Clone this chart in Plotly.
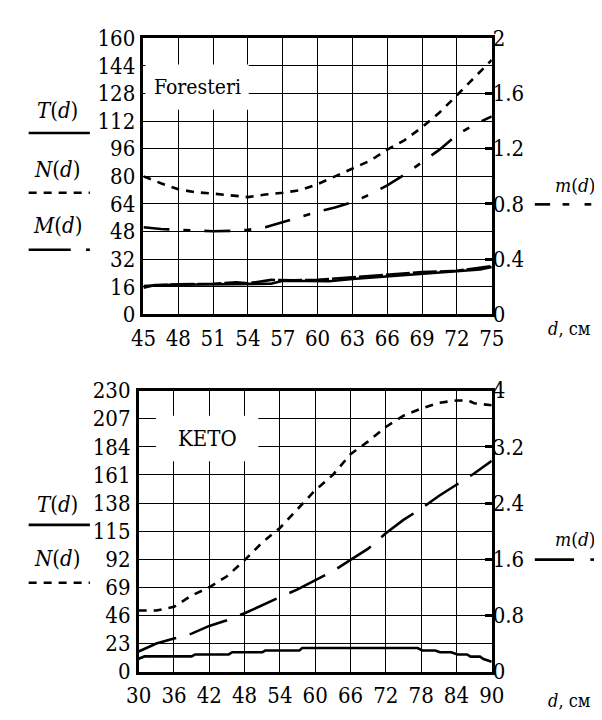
import plotly.graph_objects as go

# ---------------- DATA ----------------
# Top chart: Foresteri
top_d = [45, 46.5, 48, 49.5, 51, 52.5, 54, 55.5, 57, 58.5, 60, 61.5, 63, 64.5, 66, 67.5, 69, 70.5, 72, 73.5, 75]
top_N = [80, 76, 72.5, 70.8, 70, 69, 68, 69.5, 70.5, 72, 75.5, 80, 84.5, 89, 95.5, 101, 108.5, 117, 127, 137, 147.5]
top_M = [50.5, 49.5, 49, 48.5, 48.2, 48.4, 49, 50.5, 53.5, 56.5, 59.5, 62, 65, 69.5, 74.8, 81, 88.4, 95.5, 104, 110, 114.8]
top_Td = [45, 46, 48, 51, 54, 56, 57, 60, 61, 63, 66, 69, 72, 74, 75]
top_T = [15.5, 17.0, 17.2, 17.5, 17.8, 17.8, 19.5, 19.0, 19.2, 20.5, 22.0, 23.5, 25.0, 26.0, 27.5]
top_md = [45, 48, 51, 53, 54, 56, 58, 60, 63, 66, 69, 72, 75]
top_m = [0.205, 0.219, 0.222, 0.232, 0.225, 0.250, 0.248, 0.250, 0.269, 0.288, 0.306, 0.316, 0.350]

top_xticks = [45, 48, 51, 54, 57, 60, 63, 66, 69, 72, 75]
top_yticks = [0, 16, 32, 48, 64, 80, 96, 112, 128, 144, 160]
top_y2ticks = [0, 0.4, 0.8, 1.2, 1.6, 2]
top_y2labels = ["0", "0.4", "0.8", "1.2", "1.6", "2"]

# Bottom chart: KETO
bot_d = [30, 33, 36, 39, 42, 45, 48, 51, 54, 57, 60, 63, 66, 69, 72, 75, 78, 81, 84, 86, 87, 90]
bot_N = [50, 50, 53, 62.3, 69, 78, 91.2, 105.7, 117.6, 133.3, 148.5, 161, 178, 188.5, 200.3, 209.5, 215.3, 220, 222, 222, 219.7, 218]
bot_md = [30, 33, 36, 39, 42, 45, 48, 51, 54, 57, 60, 63, 66, 69, 72, 75, 78, 81, 84, 87, 90]
bot_m = [0.285, 0.40, 0.47, 0.54, 0.65, 0.73, 0.83, 0.95, 1.06, 1.17, 1.30, 1.43, 1.59, 1.75, 1.97, 2.16, 2.32, 2.50, 2.66, 2.82, 3.0]
bot_Td = [30, 31, 39, 39.6, 45.3, 45.9, 51, 51.5, 57.3, 57.8, 77.4, 78.2, 80.4, 81.2, 83.1, 84.2, 85.8, 86.4, 88, 88.6, 90]
bot_T = [10.5, 12.4, 12.4, 14, 14, 15.8, 15.8, 17.2, 17.2, 19.3, 19.3, 17.3, 17.3, 15.8, 15.8, 14, 14, 12.2, 12.2, 10.3, 8]

bot_xticks = [30, 36, 42, 48, 54, 60, 66, 72, 78, 84, 90]
bot_yticks = [0, 23, 46, 69, 92, 115, 138, 161, 184, 207, 230]
bot_y2ticks = [0, 0.8, 1.6, 2.4, 3.2, 4]
bot_y2labels = ["0", "0.8", "1.6", "2.4", "3.2", "4"]

# ---------------- LAYOUT HELPERS ----------------
W, H = 602, 720
FONT = "DejaVu Serif Condensed, DejaVu Serif, Liberation Serif, serif"

def px(x):
    return x / W

def py(y):
    return 1 - y / H

fig = go.Figure()

LW = 2.6
# top traces
fig.add_trace(go.Scatter(x=top_d, y=top_N, mode="lines", name="N(d)",
                         line=dict(color="black", width=LW, dash="8px,7px"), xaxis="x", yaxis="y"))
fig.add_trace(go.Scatter(x=top_d, y=top_M, mode="lines", name="M(d)",
                         line=dict(color="black", width=LW, dash="26px,14px,7px,14px"), xaxis="x", yaxis="y"))
fig.add_trace(go.Scatter(x=top_Td, y=top_T, mode="lines", name="T(d)",
                         line=dict(color="black", width=LW), xaxis="x", yaxis="y"))
fig.add_trace(go.Scatter(x=top_md, y=top_m, mode="lines", name="m(d)",
                         line=dict(color="black", width=LW, dash="24px,3px"), xaxis="x", yaxis="y2"))
# bottom traces
fig.add_trace(go.Scatter(x=bot_d, y=bot_N, mode="lines", name="N(d)",
                         line=dict(color="black", width=LW, dash="8px,7px"), xaxis="x2", yaxis="y3"))
fig.add_trace(go.Scatter(x=bot_Td, y=bot_T, mode="lines", name="T(d)",
                         line=dict(color="black", width=LW), xaxis="x2", yaxis="y3"))
fig.add_trace(go.Scatter(x=bot_md, y=bot_m, mode="lines", name="m(d)",
                         line=dict(color="black", width=LW, dash="40px,14px"), xaxis="x2", yaxis="y4"))

tickfont = dict(family=FONT, size=22, color="black")
grid = dict(showgrid=True, gridcolor="black", gridwidth=1.3, zeroline=False,
            showline=True, linecolor="black", linewidth=2.6, mirror=True,
            ticks="", tickfont=tickfont)

top_xd = [px(128), px(492)]
top_yd = [py(305), py(19)]
bot_xd = [px(123), px(492)]
bot_yd = [py(675), py(384)]

fig.update_layout(
    width=W, height=H, margin=dict(l=0, r=0, t=0, b=0),
    paper_bgcolor="white", plot_bgcolor="white", showlegend=False,
    font=dict(family=FONT, color="black"),
    xaxis=dict(domain=top_xd, range=[45, 75], tickvals=top_xticks, anchor="y",
               ticklabelstandoff=2, **grid),
    yaxis=dict(domain=top_yd, range=[0, 160], tickvals=top_yticks, anchor="x",
               ticklabelstandoff=1, **grid),
    yaxis2=dict(overlaying="y", side="right", anchor="x", range=[0, 2],
                tickvals=top_y2ticks, ticktext=top_y2labels, showgrid=False, zeroline=False,
                ticks="inside", ticklen=7, tickwidth=3, tickcolor="black",
                ticklabelstandoff=0, tickfont=tickfont),
    xaxis2=dict(domain=bot_xd, range=[30, 90], tickvals=bot_xticks, anchor="y3",
                ticklabelstandoff=2, **grid),
    yaxis3=dict(domain=bot_yd, range=[0, 230], tickvals=bot_yticks, anchor="x2",
                ticklabelstandoff=1, **grid),
    yaxis4=dict(overlaying="y3", side="right", anchor="x2", range=[0, 4],
                tickvals=bot_y2ticks, ticktext=bot_y2labels, showgrid=False, zeroline=False,
                ticks="inside", ticklen=7, tickwidth=3, tickcolor="black",
                ticklabelstandoff=0, tickfont=tickfont),
)

shapes = []
annots = []

def label_box(x0, y0, x1, y1, text, size):
    shapes.append(dict(type="rect", xref="paper", yref="paper", x0=px(x0), x1=px(x1),
                       y0=py(y1), y1=py(y0), fillcolor="white", line=dict(width=0), layer="above"))
    annots.append(dict(xref="paper", yref="paper", x=px((x0 + x1) / 2), y=py((y0 + y1) / 2),
                       text=text, showarrow=False, font=dict(family=FONT, size=size, color="black"),
                       xanchor="center", yanchor="middle"))

label_box(130, 46, 238, 93, "Foresteri", 21)
label_box(141, 410, 248, 457, "KETO", 22)

def text(x, y, t, size=22, xanchor="center"):
    annots.append(dict(xref="paper", yref="paper", x=px(x), y=py(y), text=t, showarrow=False,
                       font=dict(family=FONT, size=size, color="black"),
                       xanchor=xanchor, yanchor="middle"))

def seg(x0, x1, y, dash="solid", width=2.6):
    shapes.append(dict(type="line", xref="paper", yref="paper", x0=px(x0), x1=px(x1),
                       y0=py(y), y1=py(y), line=dict(color="black", width=width, dash=dash)))

# top legend (left)
text(38, 94, "<i>T</i>(<i>d</i>)")
seg(8, 72, 117)
text(38, 155, "<i>N</i>(<i>d</i>)")
seg(8, 72, 179, dash="8px,7px")
text(38, 213, "<i>M</i>(<i>d</i>)")
seg(8, 52, 238)
seg(68, 72, 238)
# top right legend
text(580, 171, "<i>m</i>(<i>d</i>)", size=19)
seg(537, 553, 191)
seg(566, 573, 191)
seg(589, 596, 191)
text(598, 320, "<i>d</i>, см", size=18, xanchor="right")

# bottom legend
text(38, 502, "<i>T</i>(<i>d</i>)")
seg(8, 72, 523)
text(38, 558, "<i>N</i>(<i>d</i>)")
seg(8, 72, 583, dash="8px,7px")
text(580, 538, "<i>m</i>(<i>d</i>)", size=19)
seg(537, 578, 559)
seg(595, 599, 559)
text(598, 705, "<i>d</i>, см", size=18, xanchor="right")

fig.update_layout(shapes=shapes, annotations=annots)

fig.write_html("out.html")
